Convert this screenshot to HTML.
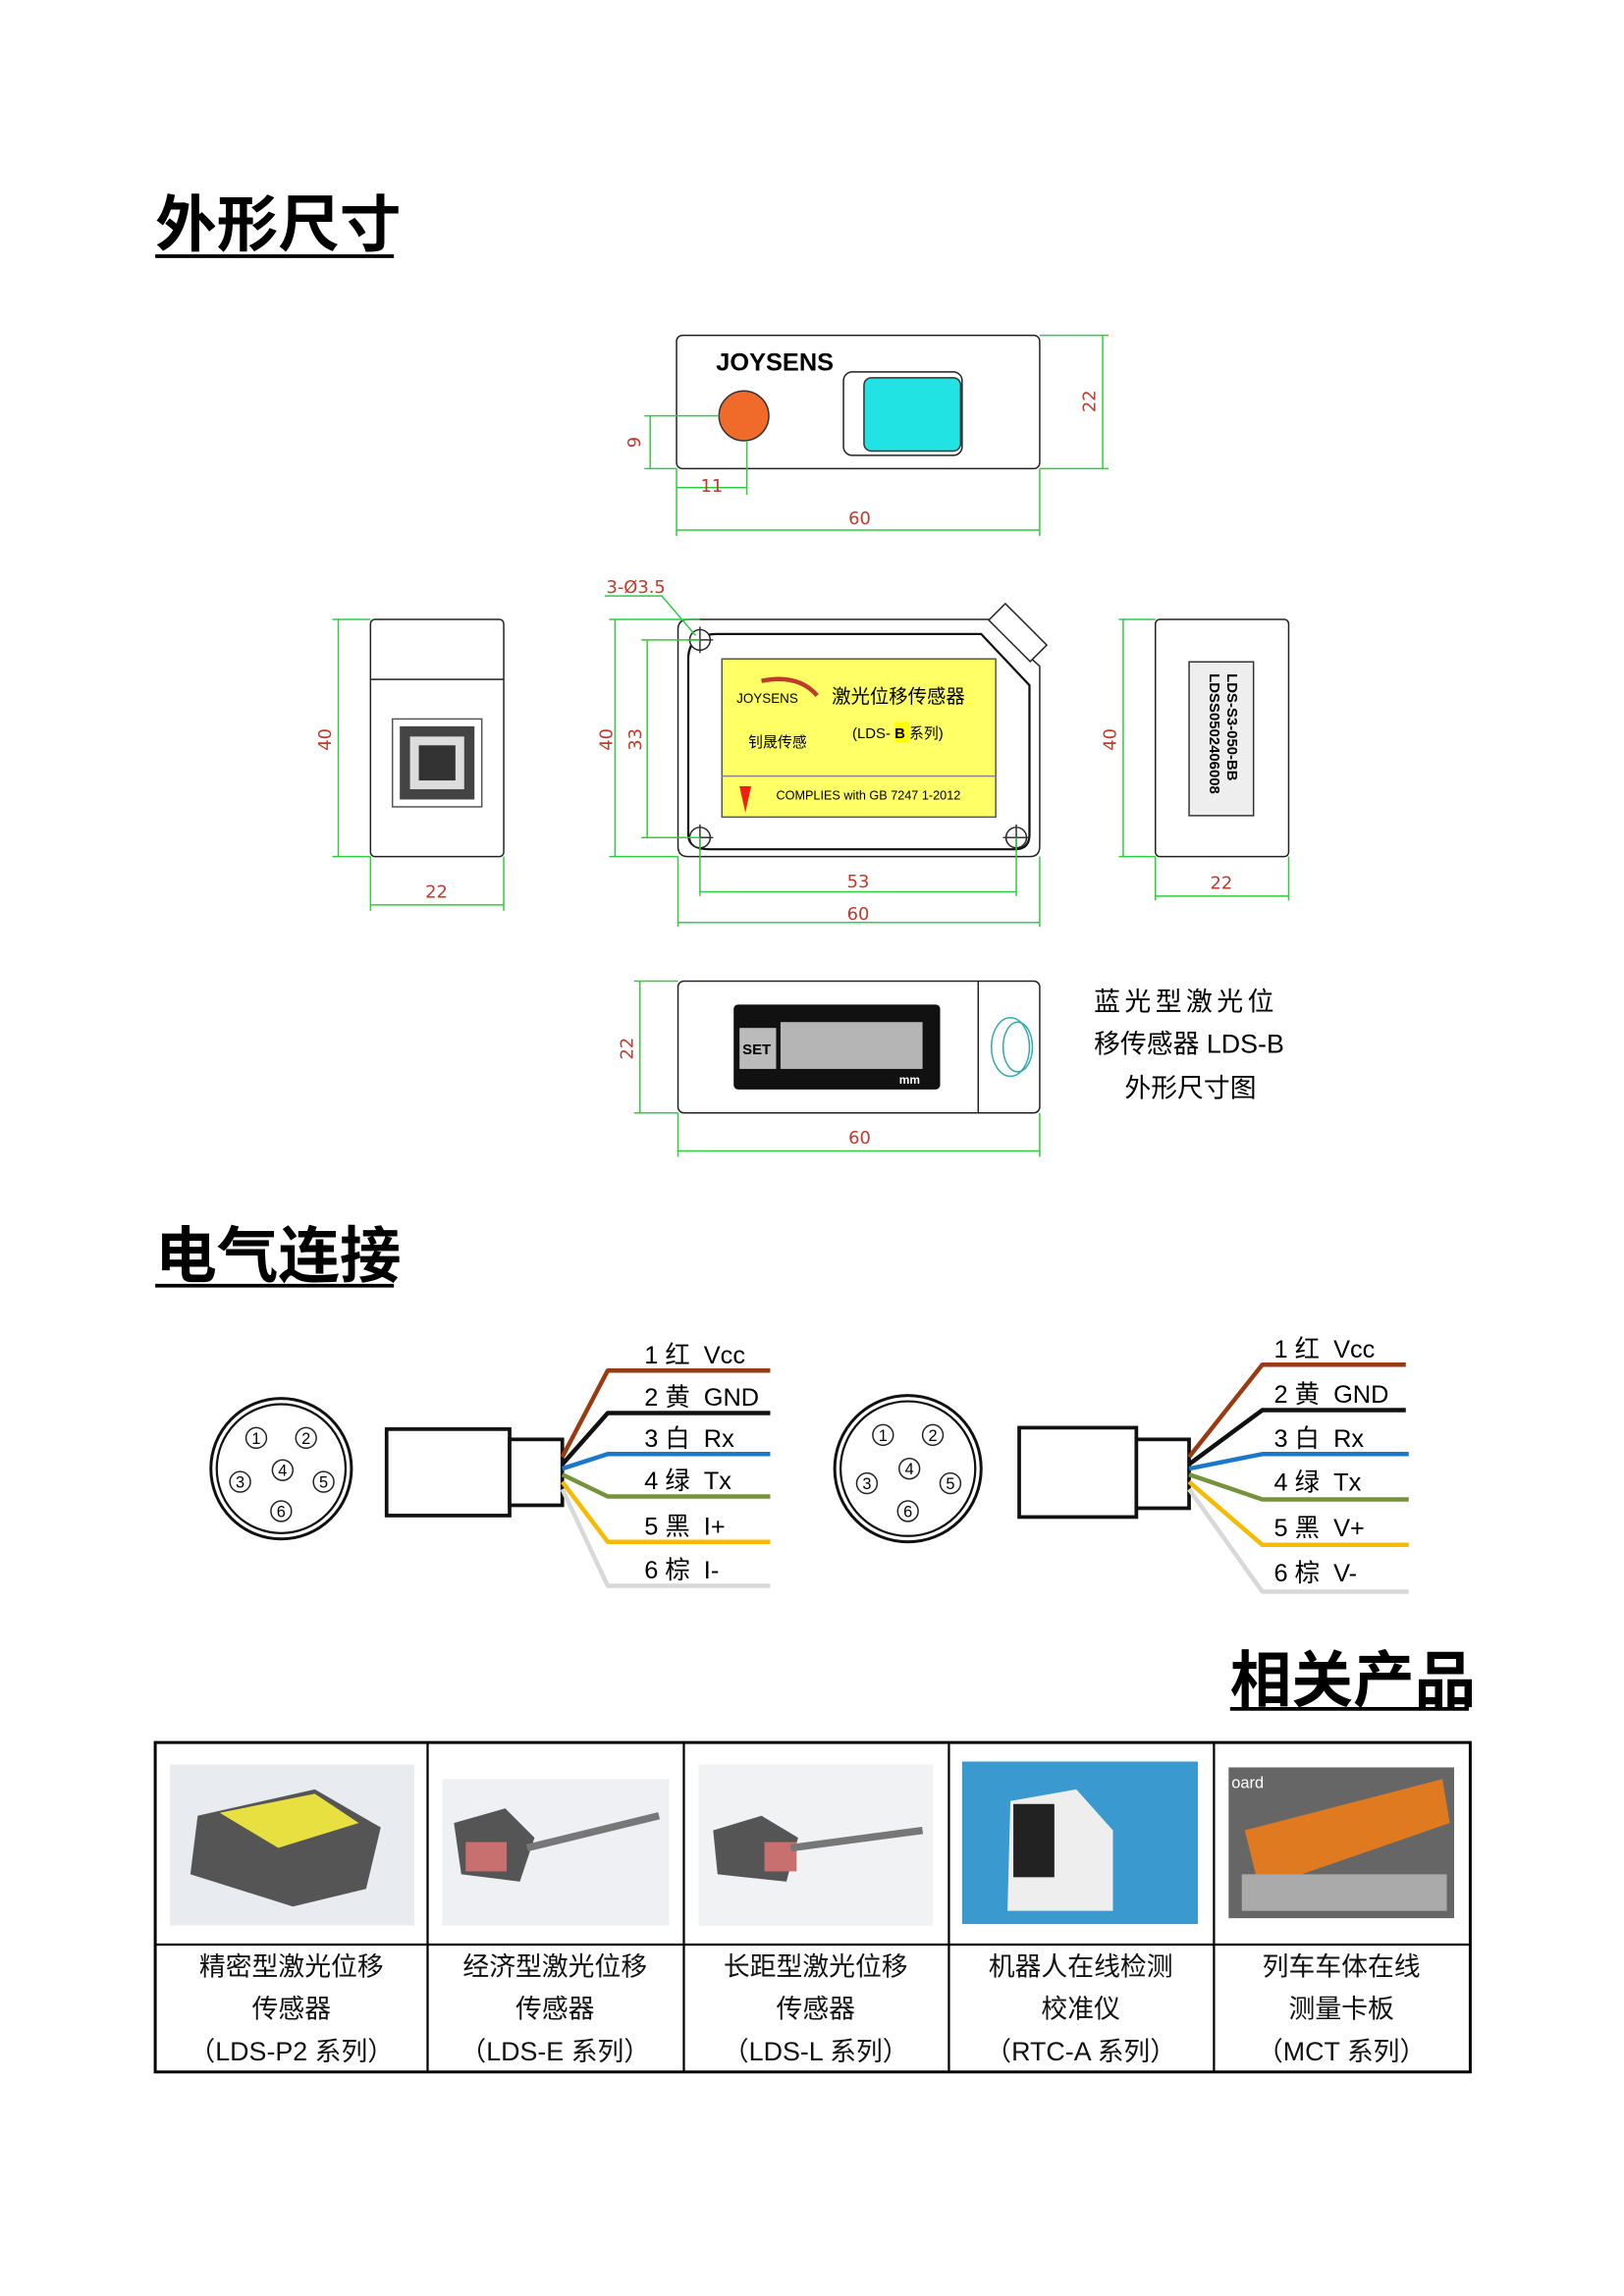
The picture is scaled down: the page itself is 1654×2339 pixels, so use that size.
<!DOCTYPE html>
<html><head><meta charset="utf-8"><style>
html,body{margin:0;padding:0;background:#fff}
svg{display:block}
text{font-family:"Liberation Sans","Noto Sans CJK SC",sans-serif;white-space:pre}
.d{fill:#c0392b;font-size:12px;font-family:"DejaVu Sans","Liberation Sans",sans-serif}
.g{stroke:#2ecc40;stroke-width:1;fill:none}
.b{stroke:#222;stroke-width:1;fill:#fff}
.h{font-size:42px;font-weight:bold;fill:#000}
.w{font-size:17px;fill:#000}
.t{font-size:18px;fill:#111;text-anchor:middle}
</style></head><body>
<svg width="1654" height="2339" viewBox="0 0 1109 1568" preserveAspectRatio="none" xmlns="http://www.w3.org/2000/svg">
<!-- headings -->
<text x="106" y="168" class="h">外形尺寸</text><line x1="106" y1="175" x2="269" y2="175" stroke="#000" stroke-width="2.5"/>
<text x="106" y="872" class="h">电气连接</text><line x1="106" y1="878" x2="269" y2="878" stroke="#000" stroke-width="2.5"/>
<text x="840" y="1162" class="h">相关产品</text><line x1="840" y1="1167" x2="1003" y2="1167" stroke="#000" stroke-width="2.5"/>

<!-- top view -->
<rect x="462" y="229" width="248" height="91" rx="4" class="b"/>
<text x="489" y="253" font-size="17" font-weight="bold">JOYSENS</text>
<circle cx="508" cy="284" r="17" fill="#f06a2a" stroke="#333"/>
<rect x="576" y="254" width="81" height="57" rx="6" class="b"/>
<rect x="590" y="258" width="66" height="50" rx="5" fill="#22e3e3" stroke="#333"/>
<path class="g" d="M710 229H757M710 320H757M753 229V320M462 320V366M710 320V366M462 362H710M510 301V338M462 333H510M440 284H491M440 320H462M444 284V320"/>
<text class="d" x="587" y="358" text-anchor="middle">60</text>
<text class="d" x="486" y="336" text-anchor="middle">11</text>
<text class="d" x="748" y="274" transform="rotate(-90 748 274)" text-anchor="middle">22</text>
<text class="d" x="437" y="302" transform="rotate(-90 437 302)" text-anchor="middle">9</text>

<!-- left view -->
<rect x="253" y="423" width="91" height="162" rx="3" class="b"/>
<line x1="253" y1="464" x2="344" y2="464" stroke="#222"/>
<rect x="268" y="491" width="61" height="60" fill="#fff" stroke="#555"/>
<rect x="273" y="496" width="51" height="50" fill="#444"/>
<rect x="280" y="503" width="37" height="36" fill="#ddd"/>
<rect x="286" y="509" width="25" height="24" fill="#333"/>
<path class="g" d="M227 423H253M227 585H253M231 423V585M253 585V622M344 585V622M253 618H344"/>
<text class="d" x="226" y="505" transform="rotate(-90 226 505)" text-anchor="middle">40</text>
<text class="d" x="298" y="613" text-anchor="middle">22</text>

<!-- front view -->
<path d="M470 423H675L710 455V578Q710 585 703 585H470Q463 585 463 578V430Q463 423 470 423Z" class="b"/>
<path d="M490 433H670L703 468V570Q703 580 693 580H485Q470 580 470 570V450Q470 433 490 433Z" fill="none" stroke="#111" stroke-width="1.5"/>
<rect x="675" y="424" width="40" height="16" transform="rotate(45 695 432)" class="b"/>
<rect x="493" y="450" width="187" height="108" fill="#ffff66" stroke="#555"/>
<line x1="493" y1="530" x2="680" y2="530" stroke="#888"/>
<text x="503" y="480" font-size="9">JOYSENS</text>
<path d="M520 465Q545 460 558 475" stroke="#c0392b" stroke-width="3" fill="none"/>
<text x="511" y="510" font-size="10">钊晟传感</text>
<text x="568" y="480" font-size="13">激光位移传感器</text>
<rect x="611" y="493" width="10" height="14" fill="#ff0"/>
<text x="582" y="504" font-size="10">(LDS- <tspan font-weight="bold">B</tspan> 系列)</text>
<polygon points="505,537 513,537 509,555" fill="#e21"/>
<text x="530" y="546" font-size="8.5">COMPLIES with GB 7247 1-2012</text>
<circle cx="478" cy="437" r="7" class="b"/><path d="M478 428V446M469 437H487" stroke="#333"/>
<circle cx="478" cy="572" r="7" class="b"/><path d="M478 563V581M469 572H487" stroke="#333"/>
<circle cx="694" cy="572" r="7" class="b"/><path d="M694 563V581M685 572H703" stroke="#333"/>
<path class="g" d="M416 423H478M416 585H463M420 423V585M438 437H478M438 572H478M442 437V572M478 572V612M694 572V612M478 609H694M463 585V633M710 585V633M463 630H710M413 407H452L475 434"/>
<text class="d" x="414" y="405" font-size="12">3-Ø3.5</text>
<text class="d" x="418" y="505" transform="rotate(-90 418 505)" text-anchor="middle">40</text>
<text class="d" x="438" y="505" transform="rotate(-90 438 505)" text-anchor="middle">33</text>
<text class="d" x="586" y="606" text-anchor="middle">53</text>
<text class="d" x="586" y="628" text-anchor="middle">60</text>

<!-- right view -->
<rect x="789" y="423" width="91" height="162" rx="3" class="b"/>
<rect x="812" y="452" width="44" height="105" fill="#eee" stroke="#333"/>
<text x="838" y="460" transform="rotate(90 838 460)" font-size="10" font-weight="bold">LDS-S3-050-BB</text>
<text x="826" y="460" transform="rotate(90 826 460)" font-size="10" font-weight="bold">LDSS0502406008</text>
<path class="g" d="M764 423H789M764 585H789M767 423V585M789 585V615M880 585V615M789 612H880"/>
<text class="d" x="762" y="505" transform="rotate(-90 762 505)" text-anchor="middle">40</text>
<text class="d" x="834" y="607" text-anchor="middle">22</text>

<!-- bottom view -->
<rect x="463" y="670" width="247" height="90" rx="4" class="b"/>
<line x1="668" y1="670" x2="668" y2="760" stroke="#222"/>
<rect x="501" y="686" width="141" height="58" rx="3" fill="#111"/>
<rect x="505" y="702" width="25" height="28" fill="#bbb"/>
<text x="507" y="720" font-size="10" font-weight="bold">SET</text>
<rect x="533" y="698" width="97" height="32" fill="#b5b5b5"/>
<text x="614" y="740" font-size="8" fill="#fff" font-weight="bold">mm</text>
<ellipse cx="690" cy="715" rx="13" ry="20" fill="none" stroke="#3aa"/>
<ellipse cx="695" cy="715" rx="10" ry="17" fill="none" stroke="#3aa"/>
<path class="g" d="M433 670H463M433 760H463M437 670V760M463 760V790M710 760V790M463 786H710"/>
<text class="d" x="432" y="716" transform="rotate(-90 432 716)" text-anchor="middle">22</text>
<text class="d" x="587" y="781" text-anchor="middle">60</text>
<text x="747" y="690" font-size="18" letter-spacing="3">蓝光型激光位</text>
<text x="747" y="719" font-size="18">移传感器 LDS-B</text>
<text x="768" y="749" font-size="18">外形尺寸图</text>

<!-- electrical left -->
<g stroke="#111" fill="none">
<circle cx="192" cy="1003" r="48" stroke-width="2"/><circle cx="192" cy="1003" r="44" stroke-width="1.5"/>
</g>
<g font-size="11" text-anchor="middle">
<circle cx="175" cy="982" r="7" class="b"/><text x="175" y="986">1</text>
<circle cx="209" cy="982" r="7" class="b"/><text x="209" y="986">2</text>
<circle cx="193" cy="1004" r="7" class="b"/><text x="193" y="1008">4</text>
<circle cx="164" cy="1012" r="7" class="b"/><text x="164" y="1016">3</text>
<circle cx="221" cy="1012" r="7" class="b"/><text x="221" y="1016">5</text>
<circle cx="192" cy="1032" r="7" class="b"/><text x="192" y="1036">6</text>
</g>
<rect x="264" y="976" width="84" height="59" fill="#fff" stroke="#111" stroke-width="2.5"/>
<rect x="348" y="983" width="36" height="45" fill="#fff" stroke="#111" stroke-width="2.5"/>
<g fill="none" stroke-linejoin="round">
<path d="M384 995L415 936H526" stroke="#9a3a10" stroke-width="3"/>
<path d="M384 1000L415 965H526" stroke="#111" stroke-width="3"/>
<path d="M384 1003L415 993H526" stroke="#1a78c8" stroke-width="3"/>
<path d="M384 1007L415 1022H526" stroke="#76933c" stroke-width="3"/>
<path d="M384 1012L415 1053H526" stroke="#f5bb00" stroke-width="3"/>
<path d="M384 1017L415 1083H526" stroke="#d8d8d8" stroke-width="3"/>
</g>
<g class="w">
<text x="440" y="931">1 红  Vcc</text><text x="440" y="960">2 黄  GND</text><text x="440" y="988">3 白  Rx</text>
<text x="440" y="1017">4 绿  Tx</text><text x="440" y="1048">5 黑  I+</text><text x="440" y="1078">6 棕  I-</text>
</g>

<!-- electrical right -->
<g stroke="#111" fill="none">
<circle cx="620" cy="1003" r="50" stroke-width="2"/><circle cx="620" cy="1003" r="46" stroke-width="1.5"/>
</g>
<g font-size="11" text-anchor="middle">
<circle cx="603" cy="980" r="7" class="b"/><text x="603" y="984">1</text>
<circle cx="637" cy="980" r="7" class="b"/><text x="637" y="984">2</text>
<circle cx="621" cy="1003" r="7" class="b"/><text x="621" y="1007">4</text>
<circle cx="592" cy="1013" r="7" class="b"/><text x="592" y="1017">3</text>
<circle cx="649" cy="1013" r="7" class="b"/><text x="649" y="1017">5</text>
<circle cx="620" cy="1032" r="7" class="b"/><text x="620" y="1036">6</text>
</g>
<rect x="696" y="975" width="80" height="61" fill="#fff" stroke="#111" stroke-width="2.5"/>
<rect x="776" y="983" width="36" height="47" fill="#fff" stroke="#111" stroke-width="2.5"/>
<g fill="none" stroke-linejoin="round">
<path d="M812 995L862 932H960" stroke="#9a3a10" stroke-width="3"/>
<path d="M812 1000L862 963H960" stroke="#111" stroke-width="3"/>
<path d="M812 1003L862 993H962" stroke="#1a78c8" stroke-width="3"/>
<path d="M812 1007L862 1024H962" stroke="#76933c" stroke-width="3"/>
<path d="M812 1012L862 1055H962" stroke="#f5bb00" stroke-width="3"/>
<path d="M812 1017L862 1087H962" stroke="#d8d8d8" stroke-width="3"/>
</g>
<g class="w">
<text x="870" y="927">1 红  Vcc</text><text x="870" y="958">2 黄  GND</text><text x="870" y="988">3 白  Rx</text>
<text x="870" y="1018">4 绿  Tx</text><text x="870" y="1049">5 黑  V+</text><text x="870" y="1080">6 棕  V-</text>
</g>

<!-- table -->
<rect x="106" y="1190" width="898" height="225" fill="none" stroke="#000" stroke-width="2"/>
<path d="M292 1190V1415M467 1190V1415M648 1190V1415M829 1190V1415M106 1328H1004" stroke="#000" stroke-width="1.5"/>
<rect x="116" y="1205" width="167" height="110" fill="#e8ecf0"/>
<polygon points="135,1240 215,1222 260,1248 250,1290 200,1302 130,1280" fill="#555"/>
<polygon points="150,1238 215,1225 245,1245 190,1262" fill="#e8e040"/>
<rect x="302" y="1215" width="155" height="100" fill="#eef0f3"/>
<polygon points="310,1245 345,1235 365,1255 355,1285 315,1280" fill="#555"/><rect x="318" y="1258" width="28" height="20" fill="#c87070"/>
<path d="M360 1262L450 1240" stroke="#777" stroke-width="5"/>
<rect x="477" y="1205" width="160" height="110" fill="#f0f2f4"/>
<polygon points="487,1250 520,1240 545,1255 537,1285 490,1280" fill="#555"/><rect x="522" y="1258" width="22" height="20" fill="#c87070"/>
<path d="M540 1262L630 1250" stroke="#777" stroke-width="5"/>
<rect x="657" y="1203" width="161" height="111" fill="#3a9ad0"/>
<polygon points="690,1230 735,1222 760,1250 760,1305 688,1305" fill="#eee"/><rect x="692" y="1232" width="28" height="50" fill="#222"/>
<rect x="839" y="1207" width="154" height="103" fill="#666"/>
<polygon points="850,1250 985,1215 990,1245 860,1290" fill="#e07a20"/>
<rect x="848" y="1280" width="140" height="25" fill="#aaa"/>
<text x="841" y="1221" font-size="11" fill="#fff">oard</text>
<g class="t">
<text x="199" y="1349">精密型激光位移</text><text x="199" y="1378">传感器</text><text x="199" y="1407">（LDS-P2 系列）</text>
<text x="379" y="1349">经济型激光位移</text><text x="379" y="1378">传感器</text><text x="379" y="1407">（LDS-E 系列）</text>
<text x="557" y="1349">长距型激光位移</text><text x="557" y="1378">传感器</text><text x="557" y="1407">（LDS-L 系列）</text>
<text x="738" y="1349">机器人在线检测</text><text x="738" y="1378">校准仪</text><text x="738" y="1407">（RTC-A 系列）</text>
<text x="916" y="1349">列车车体在线</text><text x="916" y="1378">测量卡板</text><text x="916" y="1407">（MCT 系列）</text>
</g>
</svg>
</body></html>
